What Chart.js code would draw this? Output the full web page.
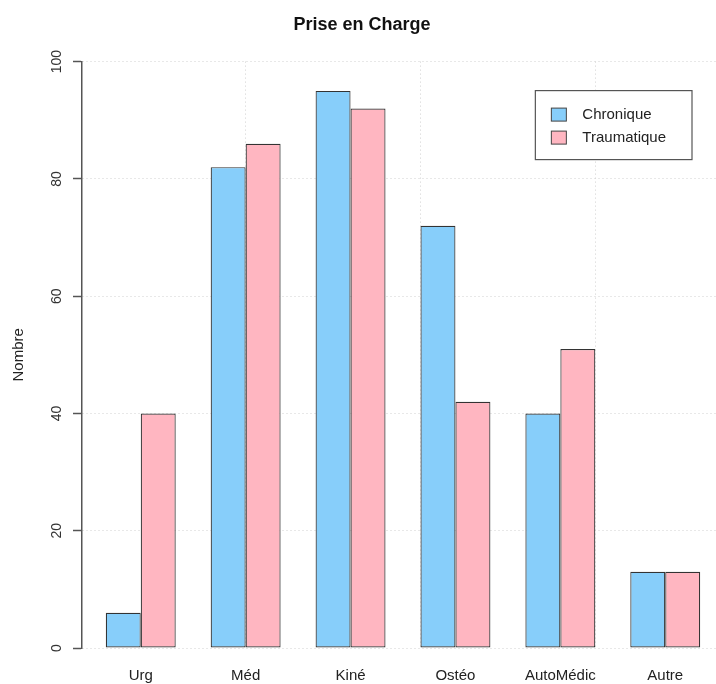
<!DOCTYPE html>
<html>
<head>
<meta charset="utf-8">
<script src="https://cdn.jsdelivr.net/npm/chart.js@4/dist/chart.umd.min.js"></script>
<style>
  html, body { margin: 0; padding: 0; background: #fff; overflow: hidden; width: 716px; height: 684px; }
  canvas { display: block; }
</style>
</head>
<body>
<canvas id="c" width="806" height="684" style="width:806px;height:684px"></canvas>
<script>
// ---- data ----
const chartTitle = 'Prise en Charge';
const yTitle = 'Nombre';
const categories = ['Urg', 'Méd', 'Kiné', 'Ostéo', 'AutoMédic', 'Autre'];
const seriesNames = ['Chronique', 'Traumatique'];
const chronique = [6, 82, 95, 72, 40, 13];
const traumatique = [40, 86, 92, 42, 51, 13];
const yTicks = [0, 20, 40, 60, 80, 100];
const xGridAt = [5, 10, 15];          // grid() positions on the barplot axis
const seriesColors = ['#87CEFA', '#FFB6C1'];

// barplot(beside=TRUE) geometry: each group = 2 bars + 1 space unit
const groupPos = categories.map((_, i) => 3 * i + 2);
const span = 3 * categories.length - 1;
const xMin = 1 - 0.04 * span;
const xMax = 3 * categories.length + 0.04 * span;

Chart.defaults.font.family = '"Liberation Sans", Arial, Helvetica, sans-serif';
Chart.defaults.color = '#222';

const rLegend = {
  id: 'rLegend',
  afterDatasetsDraw(chart) {
    const { ctx, chartArea: a } = chart;
    ctx.save();
    ctx.font = '15px "Liberation Sans", Arial, sans-serif';
    const tw = Math.max(...chart.data.datasets.map(d => ctx.measureText(d.label).width));
    const sw = 15, sh = 13, padL = 16, gap = 16, padR = 26, row = 23;
    const w = padL + sw + gap + tw + padR, h = 69;
    const right = a.right - 32, top = a.top + 29, left = right - w;
    ctx.fillStyle = '#fff';
    ctx.fillRect(left, top, w, h);
    ctx.strokeStyle = '#555';
    ctx.lineWidth = 1.2;
    ctx.strokeRect(left, top, w, h);
    chart.data.datasets.forEach((d, i) => {
      const cy = top + 24 + i * row;
      ctx.fillStyle = d.backgroundColor;
      ctx.fillRect(left + padL, cy - sh / 2, sw, sh);
      ctx.strokeStyle = '#444';
      ctx.lineWidth = 1;
      ctx.strokeRect(left + padL, cy - sh / 2, sw, sh);
      ctx.fillStyle = '#222';
      ctx.textBaseline = 'middle';
      ctx.textAlign = 'left';
      ctx.fillText(d.label, left + padL + sw + gap, cy);
    });
    ctx.restore();
  }
};

const seriesData = [chronique, traumatique];

new Chart(document.getElementById('c'), {
  type: 'bar',
  data: {
    datasets: seriesNames.map((name, s) => ({
      label: name,
      data: seriesData[s].map((v, i) => ({ x: groupPos[i], y: v })),
      backgroundColor: seriesColors[s],
      borderColor: '#333',
      borderWidth: 1.2,
      borderSkipped: false,
      categoryPercentage: 2 / 3,
      barPercentage: 1
    }))
  },
  options: {
    responsive: false,
    animation: false,
    devicePixelRatio: 1,
    layout: { padding: { left: 0, right: 82, top: 0, bottom: 0 } },
    plugins: {
      legend: { display: false },
      tooltip: { enabled: false },
      title: {
        display: true,
        text: chartTitle,
        color: '#111',
        font: { size: 18, weight: 'bold' },
        padding: { top: 14, bottom: 26 }
      }
    },
    scales: {
      x: {
        type: 'linear',
        min: xMin, max: xMax,
        bounds: 'data',
        offset: false,
        afterBuildTicks: s => { s.ticks = xGridAt.map(v => ({ value: v })); },
        afterFit: s => { s.height = 0; },
        grid: { offset: false, color: '#d0d0d0', lineWidth: 1, drawTicks: false },
        border: { display: false, dash: [1, 3] },
        ticks: { display: false }
      },
      xl: {
        type: 'linear',
        position: 'bottom',
        min: xMin, max: xMax,
        bounds: 'data',
        offset: false,
        afterBuildTicks: s => { s.ticks = groupPos.map(v => ({ value: v })); },
        afterFit: s => { s.height = 36; },
        grid: { display: false, drawTicks: false, offset: false },
        border: { display: false },
        ticks: {
          autoSkip: false, maxRotation: 0, minRotation: 0, padding: 19,
          callback: (v, i) => categories[i],
          font: { size: 15 }, color: '#222'
        }
      },
      y: {
        min: 0, max: 100,
        afterBuildTicks: s => { s.ticks = yTicks.map(v => ({ value: v })); },
        afterFit: s => { s.width = 82; },
        border: { display: true, color: '#555', width: 1.5, dash: [1, 3] },
        grid: {
          color: '#d0d0d0', lineWidth: 1,
          drawTicks: true, tickLength: 9, tickColor: '#555', tickWidth: 1.5, tickBorderDash: []
        },
        ticks: {
          minRotation: 90, maxRotation: 90, crossAlign: 'center', padding: 4,
          color: '#333', font: { size: 14 }
        },
        title: {
          display: true, text: yTitle, color: '#222',
          font: { size: 15 }, padding: { top: 10, bottom: 0 }
        }
      }
    }
  },
  plugins: [rLegend]
});
</script>
</body>
</html>
